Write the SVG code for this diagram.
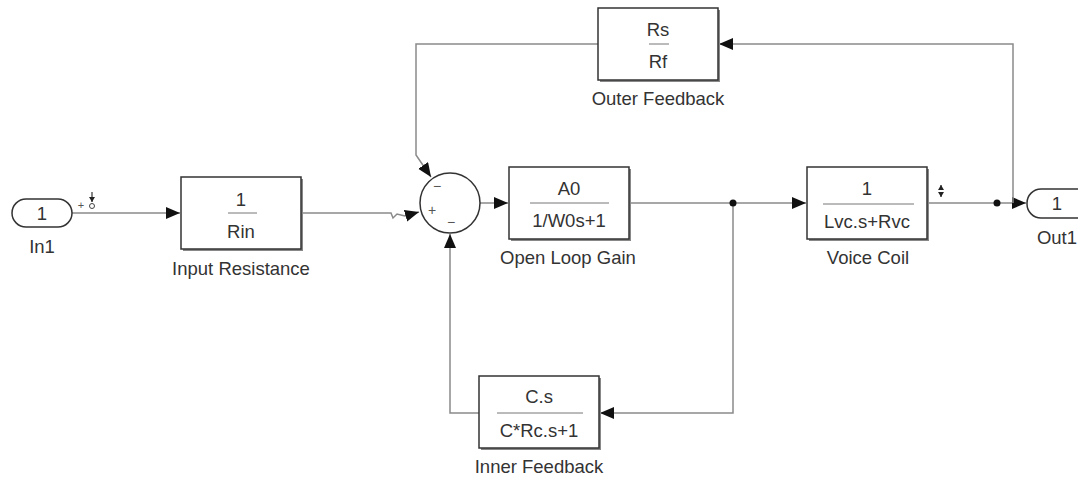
<svg xmlns="http://www.w3.org/2000/svg" width="1078" height="477" viewBox="0 0 1078 477">
<defs>
<marker id="arr" markerUnits="userSpaceOnUse" markerWidth="16" markerHeight="14" refX="14" refY="6" orient="auto">
<path d="M0,0 L14,6 L0,12 z" fill="#111"/>
</marker>
<marker id="sm" markerUnits="userSpaceOnUse" markerWidth="6" markerHeight="6" refX="5" refY="3" orient="auto">
<path d="M0,0 L5,3 L0,6 z" fill="#222"/>
</marker>
</defs>
<style>
.box{fill:#fff;stroke:#333;stroke-width:1.5}
.sh{fill:#888}
.t{font-family:"Liberation Sans",Arial,sans-serif;font-size:18.5px;fill:#333;text-anchor:middle;dominant-baseline:central}
.lbl{font-family:"Liberation Sans",Arial,sans-serif;font-size:18.5px;fill:#333;text-anchor:middle;dominant-baseline:central}
.frac{stroke:#777;stroke-width:1}
.w{fill:none;stroke:#8a8a8a;stroke-width:1.5}
.sign{font-family:"Liberation Sans",Arial,sans-serif;font-size:14px;fill:#555;text-anchor:middle;dominant-baseline:central}
</style>
<rect width="1078" height="477" fill="#fff"/>

<g id="connectors">
<path class="w" d="M72,213 H180" marker-end="url(#arr)"/>
<path class="w" d="M302,213 H391 L393,218 L397,214 L405,216 L419,212" marker-end="url(#arr)"/>
<path class="w" d="M480,203 H508" marker-end="url(#arr)"/>
<path class="w" d="M630,203 H806" marker-end="url(#arr)"/>
<path class="w" d="M733,203 V413 H600" marker-end="url(#arr)"/>
<path class="w" d="M479,413 H450 V234" marker-end="url(#arr)"/>
<path class="w" d="M927,203 H1026" marker-end="url(#arr)"/>
<path class="w" d="M1013,203 V44 H719" marker-end="url(#arr)"/>
<path class="w" d="M598,44 H416 V155 L431,177" marker-end="url(#arr)"/>
<circle cx="733" cy="203" r="3.5" fill="#111"/>
<circle cx="997" cy="203" r="3.5" fill="#111"/>
</g>

<g id="In1">
<rect x="12" y="199" width="60" height="28" rx="14" class="box"/>
<text x="42" y="213" class="t">1</text>
<text x="42" y="246" class="lbl">In1</text>
<text x="81" y="205" class="sign" style="font-size:11px">+</text>
<circle cx="92" cy="206" r="2.5" fill="none" stroke="#444" stroke-width="1"/>
<path d="M92,192 V202" stroke="#333" stroke-width="1.2" marker-end="url(#sm)"/>
</g>

<g id="InputResistance">
<rect x="183" y="179" width="120" height="72" class="sh"/>
<rect x="181" y="177" width="120" height="72" class="box"/>
<text x="241" y="199" class="t">1</text>
<line x1="228" y1="213" x2="257" y2="213" class="frac"/>
<text x="241" y="231" class="t">Rin</text>
<text x="241" y="268" class="lbl">Input Resistance</text>
</g>

<g id="Sum">
<circle cx="450" cy="203" r="30" fill="#fff" stroke="#333" stroke-width="1.5"/>
<text x="437" y="186" class="sign">−</text>
<text x="432" y="210" class="sign">+</text>
<text x="451" y="222" class="sign">−</text>
</g>

<g id="OpenLoopGain">
<rect x="511" y="169" width="120" height="72" class="sh"/>
<rect x="509" y="167" width="120" height="72" class="box"/>
<text x="569" y="188" class="t">A0</text>
<line x1="530" y1="203" x2="609" y2="203" class="frac"/>
<text x="569" y="220" class="t">1/W0s+1</text>
<text x="568" y="257" class="lbl">Open Loop Gain</text>
</g>

<g id="VoiceCoil">
<rect x="809" y="169" width="120" height="72" class="sh"/>
<rect x="807" y="167" width="120" height="72" class="box"/>
<text x="867" y="188" class="t">1</text>
<line x1="823" y1="204" x2="914" y2="204" class="frac"/>
<text x="867" y="221" class="t">Lvc.s+Rvc</text>
<text x="868" y="257" class="lbl">Voice Coil</text>
<path d="M941,190 V185" stroke="#333" stroke-width="1.2" marker-end="url(#sm)"/>
<path d="M941,192 V197" stroke="#333" stroke-width="1.2" marker-end="url(#sm)"/>
</g>

<g id="OuterFeedback">
<rect x="600" y="10" width="120" height="72" class="sh"/>
<rect x="598" y="8" width="120" height="72" class="box"/>
<text x="658" y="29" class="t">Rs</text>
<line x1="649" y1="44" x2="669" y2="44" class="frac"/>
<text x="658" y="61" class="t">Rf</text>
<text x="658" y="98" class="lbl">Outer Feedback</text>
</g>

<g id="InnerFeedback">
<rect x="481" y="378" width="120" height="72" class="sh"/>
<rect x="479" y="376" width="120" height="72" class="box"/>
<text x="539" y="396" class="t">C.s</text>
<line x1="497" y1="413" x2="583" y2="413" class="frac"/>
<text x="539" y="430" class="t">C*Rc.s+1</text>
<text x="539" y="466" class="lbl">Inner Feedback</text>
</g>

<g id="Out1">
<rect x="1027" y="189" width="72" height="29" rx="14" class="box"/>
<text x="1057" y="203" class="t">1</text>
<text x="1057" y="237" class="lbl">Out1</text>
</g>
</svg>
